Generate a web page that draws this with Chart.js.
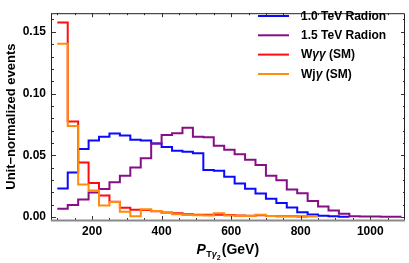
<!DOCTYPE html>
<html><head><meta charset="utf-8">
<style>html,body{margin:0;padding:0;background:#fff;overflow:hidden}#wrap{width:409px;height:263px;position:relative}</style>
<script src="https://cdn.jsdelivr.net/npm/chart.js@4.4.1/dist/chart.umd.min.js"></script>
</head><body><div id="wrap"><canvas id="c" width="409" height="263"></canvas></div>
<script>
// bin edges (GeV)
const binEdges = [100,130,160,190,220,250,280,310,340,370,400,430,460,490,520,550,580,610,640,670,700,730,760,790,820,850,880,910,940,970,1000,1030,1060,1090];
// series values per bin
const radion10 = [0.023,0.036,0.055,0.062,0.065,0.0675,0.066,0.0626,0.062,0.0595,0.0567,0.0536,0.0528,0.0515,0.038,0.0373,0.0325,0.027,0.0228,0.019,0.0146,0.0112,0.0077,0.0038,0.002,0.001,0.0005,0.0002];
const radion15 = [0.0066,0.0097,0.014,0.0197,0.0225,0.028,0.0333,0.040,0.0475,0.0595,0.0664,0.0677,0.0722,0.065,0.0646,0.0577,0.0544,0.0507,0.0463,0.0421,0.0334,0.0296,0.0222,0.0191,0.0128,0.0084,0.0051,0.0026,0.0005,0.0004,0.0003,0.0002,0.0002];
const wgg = [0.1575,0.0773,0.044,0.0275,0.0174,0.0122,0.0075,0.0057,0.0055,0.0045,0.0035,0.003,0.0022,0.0017,0.0018,0.0018,0.0015,0.0012,0.001,0.0013,0.0008,0.0006,0.0005,0.0003];
const wjg = [0.1404,0.0737,0.0263,0.0214,0.0093,0.012,0.0042,0.0005,0.0062,0.0048,0.0034,0.0022,0.0015,0.0013,0.0012,0.003,0.0012,0.001,0.0008,0.0018,0.0007,0.0006,0.0005,0.0004,0.0003];
// tick labels
const xTickLabels = [200,400,600,800,1000];
const yTickLabels = [0.00,0.05,0.10,0.15];
const seriesNames = ['1.0 TeV Radion','1.5 TeV Radion','Wγγ (SM)','Wjγ (SM)'];
const colors = ['#0a0aff','#860f86','#ff0d0d','#ff8c0a'];

function steps(vals){
  const pts = vals.map((v,i)=>({x:binEdges[i], y:v}));
  pts.push({x:binEdges[vals.length], y:vals[vals.length-1]});
  return pts;
}
const FONT = '"Liberation Sans", Arial, sans-serif';
const allSeries = [radion10, radion15, wgg, wjg];
const orders = [4,3,2,1];

const frameTicks = {
  id:'frameTicks',
  afterDatasetsDraw(chart){
    const {ctx, chartArea:a, scales:{x,y}} = chart;
    ctx.save();
    ctx.strokeStyle = '#333'; ctx.lineWidth = 1;
    ctx.beginPath();
    for (let v=100; v<1100; v+=50){
      const px = Math.round(x.getPixelForValue(v))+0.5;
      const len = (v%200===0)?4:2;
      ctx.moveTo(px, a.bottom); ctx.lineTo(px, a.bottom-len);
      ctx.moveTo(px, a.top); ctx.lineTo(px, a.top+len);
    }
    for (let k=0; k<=16; k++){
      const v = k/100;
      const py = Math.round(y.getPixelForValue(v))+0.5;
      const len = (k%5===0)?4:2;
      ctx.moveTo(a.left, py); ctx.lineTo(a.left+len, py);
      ctx.moveTo(a.right, py); ctx.lineTo(a.right-len, py);
    }
    ctx.stroke();
    // frame
    ctx.beginPath(); ctx.strokeStyle='#222'; ctx.lineWidth=1;
    ctx.moveTo(a.left-0.5, a.top+0.5); ctx.lineTo(a.right-0.5, a.top+0.5); ctx.lineTo(a.right-0.5, a.bottom);
    ctx.moveTo(a.left-0.5, a.top); ctx.lineTo(a.left-0.5, a.bottom);
    ctx.stroke();
    ctx.beginPath(); ctx.strokeStyle='#8a8a8a'; ctx.lineWidth=2;
    ctx.moveTo(a.left-1, a.bottom+0.5); ctx.lineTo(a.right, a.bottom+0.5);
    ctx.stroke();
    ctx.restore();
  },
  afterDraw(chart){
    const {ctx} = chart;
    ctx.save();
    ctx.fillStyle = '#000';
    ctx.textBaseline = 'alphabetic';
    // x-axis title: P_{Tγ2}(GeV)
    let cx = 196.5; const base = 253.5;
    ctx.font = 'italic bold 14px '+FONT; ctx.fillText('P', cx, base); cx += ctx.measureText('P').width + 0.5;
    ctx.font = 'bold 9px '+FONT; ctx.fillText('T', cx, base+3.5); cx += ctx.measureText('T').width;
    ctx.font = 'italic bold 9px '+FONT; ctx.fillText('γ', cx, base+3.5); cx += ctx.measureText('γ').width;
    ctx.font = 'bold 7px '+FONT; ctx.fillText('2', cx, base+6); cx += ctx.measureText('2').width + 1;
    ctx.font = 'bold 14px '+FONT; ctx.fillText('(GeV)', cx, base);
    // legend
    const lys = [16, 35.3, 54.6, 74];
    for (let i=0;i<4;i++){
      ctx.beginPath(); ctx.strokeStyle = colors[i]; ctx.lineWidth = 2;
      ctx.moveTo(258, lys[i]); ctx.lineTo(289, lys[i]); ctx.stroke();
      ctx.textBaseline = 'middle';
      let tx = 301;
      const name = seriesNames[i];
      const parts = name.split(/(γ+)/).filter(s=>s.length);
      for (const p of parts){
        ctx.font = (p.startsWith('γ') ? 'italic bold 12px ' : 'bold 12px ') + FONT;
        ctx.fillText(p, tx, lys[i]+0.5);
        tx += ctx.measureText(p).width;
      }
    }
    ctx.restore();
  }
};

new Chart(document.getElementById('c'), {
  type:'line',
  data:{
    datasets: allSeries.map((s,i)=>({
      label: seriesNames[i], data: steps(s), borderColor: colors[i], backgroundColor: colors[i],
      borderWidth: 2, pointRadius: 0, stepped: true, fill: false, order: orders[i], tension: 0
    }))
  },
  options:{
    responsive:false, animation:false, devicePixelRatio:1,
    layout:{padding:{top:1, right:4, left:0, bottom:0}},
    plugins:{legend:{display:false}, tooltip:{enabled:false}},
    scales:{
      x:{type:'linear', min:84.76, max:1100,
        grid:{display:false, drawTicks:false, tickLength:0}, border:{display:false},
        afterBuildTicks(s){ s.ticks = xTickLabels.map(v=>({value:v})); },
        afterFit(s){ s.height = 43; },
        ticks:{autoSkip:false, maxRotation:0, padding:4, color:'#000', font:{family:FONT, size:12, weight:'bold'}, callback:v=>String(v)}
      },
      y:{type:'linear', min:-0.00253, max:0.1651,
        grid:{display:false, drawTicks:false, tickLength:0}, border:{display:false},
        afterBuildTicks(s){ s.ticks = yTickLabels.map(v=>({value:v})); },
        afterFit(s){ s.width = 52; },
        ticks:{autoSkip:false, padding:6, color:'#000', font:{family:FONT, size:12, weight:'bold'}, callback:v=>Number(v).toFixed(2)},
        title:{display:true, text:'Unit−normalized events', color:'#000', font:{family:FONT, size:13, weight:'bold'}, padding:{top:4,bottom:0}}
      }
    }
  },
  plugins:[frameTicks]
});
</script></body></html>
